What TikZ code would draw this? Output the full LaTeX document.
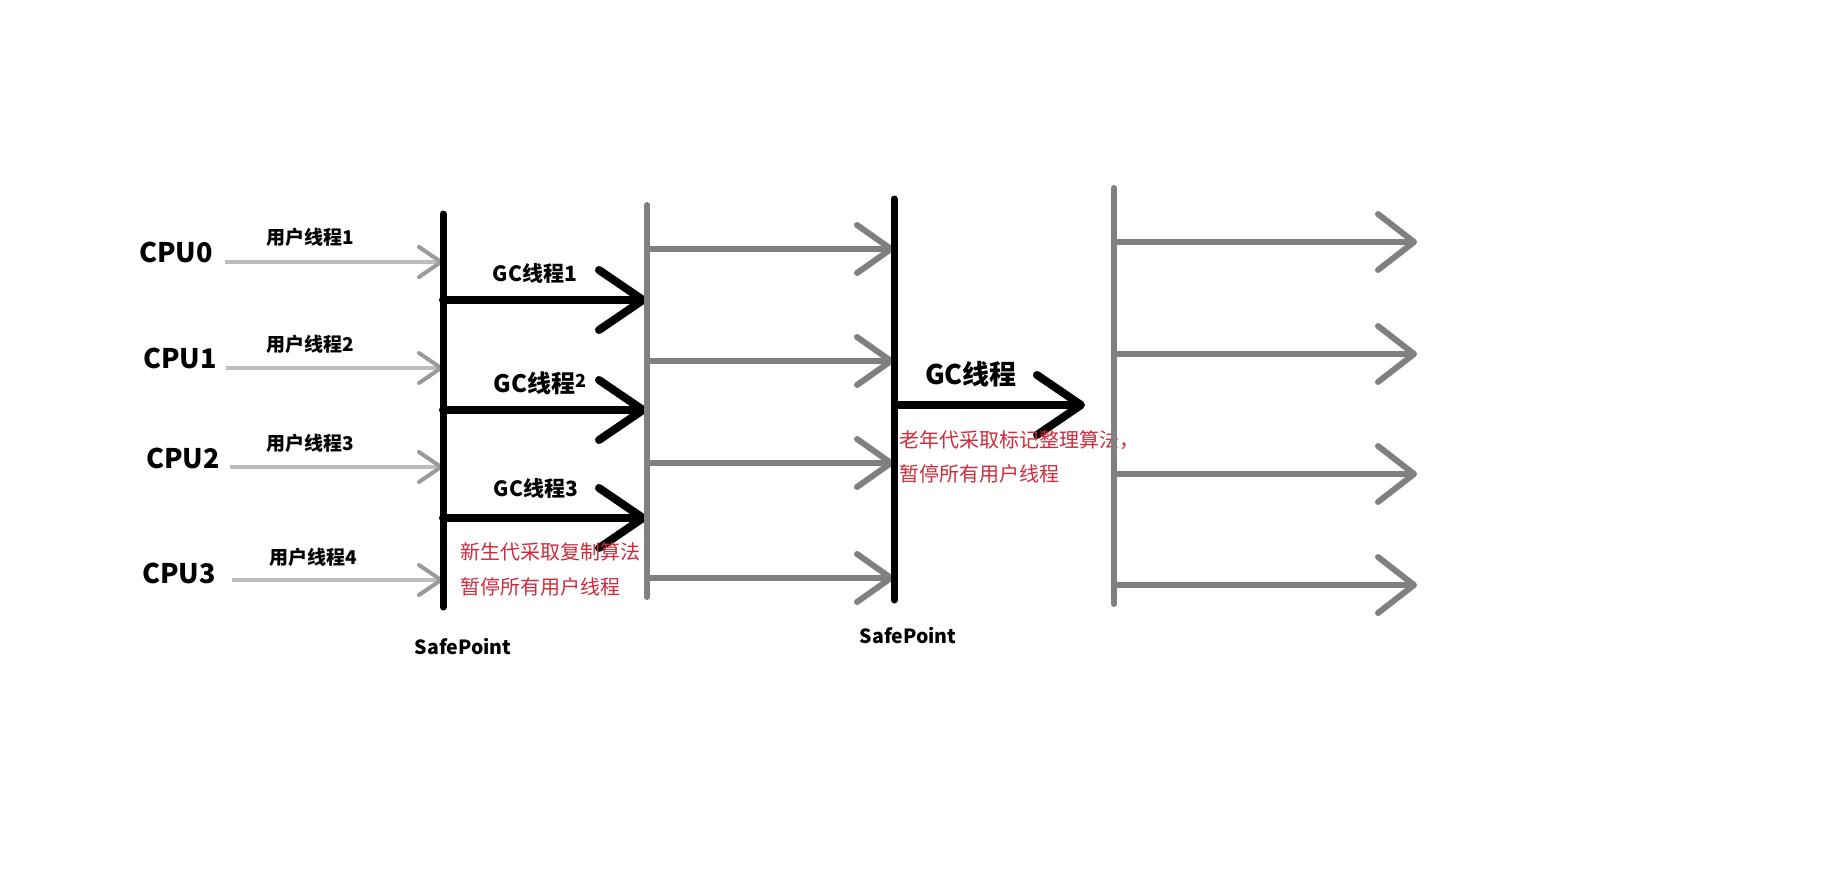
\documentclass[tikz,border=0pt]{standalone}
\usepackage{fontspec}
\setmainfont{Noto Sans CJK SC}
\usetikzlibrary{arrows.meta,calc}
\definecolor{usergray}{HTML}{BDBDBD}
\definecolor{usertip}{HTML}{9A9A9A}
\definecolor{bargray}{HTML}{808080}
\definecolor{notered}{HTML}{D02B3C}

\begin{document}
\begin{tikzpicture}[
  x=1pt,y=-1pt,
  cpulabel/.style={
    font=\bfseries\fontsize{27}{31}\selectfont,
    inner sep=0pt
  },
  userlabel/.style={
    font=\bfseries\fontsize{19}{23}\selectfont,
    inner sep=0pt
  },
  gclabel/.style={
    font=\bfseries\fontsize{21}{25}\selectfont,
    inner sep=0pt
  },
  note/.style={
    font=\fontsize{20}{24}\selectfont,
    text=notered,
    anchor=west,
    inner sep=0pt
  },
  safelabel/.style={
    font=\bfseries\fontsize{19.5}{23}\selectfont,
    inner sep=0pt
  },
  blackbar/.style={
    draw=black,
    line width=7pt,
    line cap=round
  },
  graybar/.style={
    draw=bargray,
    line width=6pt,
    line cap=round
  },
  userflow/.style={
    draw=usergray,
    line width=4pt,
    -{Straight Barb[length=22pt,width=30pt,round,color=usertip]}
  },
  gcflow/.style={
    draw=black,
    line width=8pt,
    line cap=round,
    -{Straight Barb[length=44pt,width=60pt,round]}
  },
  runflow/.style={
    draw=bargray,
    line width=6pt,
    line cap=round,
    -{Straight Barb[length=34pt,width=48pt,round]}
  }
]

\fill[white] (0,0) rectangle (1839,878);
\useasboundingbox (0,0) rectangle (1839,878);

% cpus and user threads
\node[cpulabel] (cpu0) at (176,252) {CPU0};
\node[cpulabel] (cpu1) at (180,358) {CPU1};
\node[cpulabel] (cpu2) at (183,458) {CPU2};
\node[cpulabel] (cpu3) at (179,573) {CPU3};

\node[userlabel] (ut1) at (310,237) {用户线程1};
\node[userlabel] (ut2) at (310,344) {用户线程2};
\node[userlabel] (ut3) at (310,443) {用户线程3};
\node[userlabel] (ut4) at (313,557) {用户线程4};

% the four bars
\coordinate (sp1top) at (443,214);
\coordinate (sp1bot) at (443,607);
\coordinate (copytop) at (647,205);
\coordinate (copybot) at (647,597);
\coordinate (sp2top) at (894,199);
\coordinate (sp2bot) at (894,600);
\coordinate (marktop) at (1114,188);
\coordinate (markbot) at (1114,604);

\coordinate (u0) at (225,262);
\coordinate (u1) at (226,368);
\coordinate (u2) at (230,467);
\coordinate (u3) at (232,580);
\draw[userflow] (u0) -- (u0 -| sp1top);
\draw[userflow] (u1) -- (u1 -| sp1top);
\draw[userflow] (u2) -- (u2 -| sp1top);
\draw[userflow] (u3) -- (u3 -| sp1top);

% young generation gc
\coordinate (g1) at (443,300);
\coordinate (g2) at (443,410);
\coordinate (g3) at (443,518);
\draw[gcflow] (g1) -- (g1 -| copytop);
\draw[gcflow] (g2) -- (g2 -| copytop);
\draw[gcflow] (g3) -- (g3 -| copytop);

\node[gclabel] (gc1) at (535,273) {GC线程1};
\node[gclabel,font=\bfseries\fontsize{24}{28}\selectfont] (gc2) at (540,383)
  {GC线程\raisebox{5pt}{\fontsize{18}{20}\selectfont 2}};
\node[gclabel] (gc3) at (536,488) {GC线程3};

\node[note] (young1) at (460,552) {新生代采取复制算法};
\node[note] (young2) at (460,587) {暂停所有用户线程};

\coordinate (r1) at (647,249);
\coordinate (r2) at (647,361);
\coordinate (r3) at (647,463);
\coordinate (r4) at (647,578);
\draw[runflow] (r1) -- (r1 -| sp2top);
\draw[runflow] (r2) -- (r2 -| sp2top);
\draw[runflow] (r3) -- (r3 -| sp2top);
\draw[runflow] (r4) -- (r4 -| sp2top);

% old generation gc
\coordinate (g0) at (898,405);
\coordinate (g0end) at (1085,405);
\draw[gcflow] (g0) -- (g0end);
\node[gclabel,font=\bfseries\fontsize{27}{31}\selectfont] (gc0) at (971,374) {GC线程};

\node[note] (old1) at (899,440) {老年代采取标记整理算法，};
\node[note] (old2) at (899,474) {暂停所有用户线程};

\coordinate (m1) at (1114,242);
\coordinate (m2) at (1114,354);
\coordinate (m3) at (1114,474);
\coordinate (m4) at (1114,585);
\coordinate (m1end) at (1417,242);
\coordinate (m2end) at (1417,354);
\coordinate (m3end) at (1417,474);
\coordinate (m4end) at (1417,585);
\draw[runflow,-{Straight Barb[length=36pt,width=56pt,round]}] (m1) -- (m1end);
\draw[runflow,-{Straight Barb[length=36pt,width=56pt,round]}] (m2) -- (m2end);
\draw[runflow,-{Straight Barb[length=36pt,width=56pt,round]}] (m3) -- (m3end);
\draw[runflow,-{Straight Barb[length=36pt,width=56pt,round]}] (m4) -- (m4end);

\draw[blackbar] (sp1top) -- (sp1bot);
\draw[graybar] (copytop) -- (copybot);
\draw[blackbar] (sp2top) -- (sp2bot);
\draw[graybar] (marktop) -- (markbot);

\node[safelabel] (safe1) at (463,647) {SafePoint};
\node[safelabel] (safe2) at (908,636) {SafePoint};

\end{tikzpicture}
\end{document}
